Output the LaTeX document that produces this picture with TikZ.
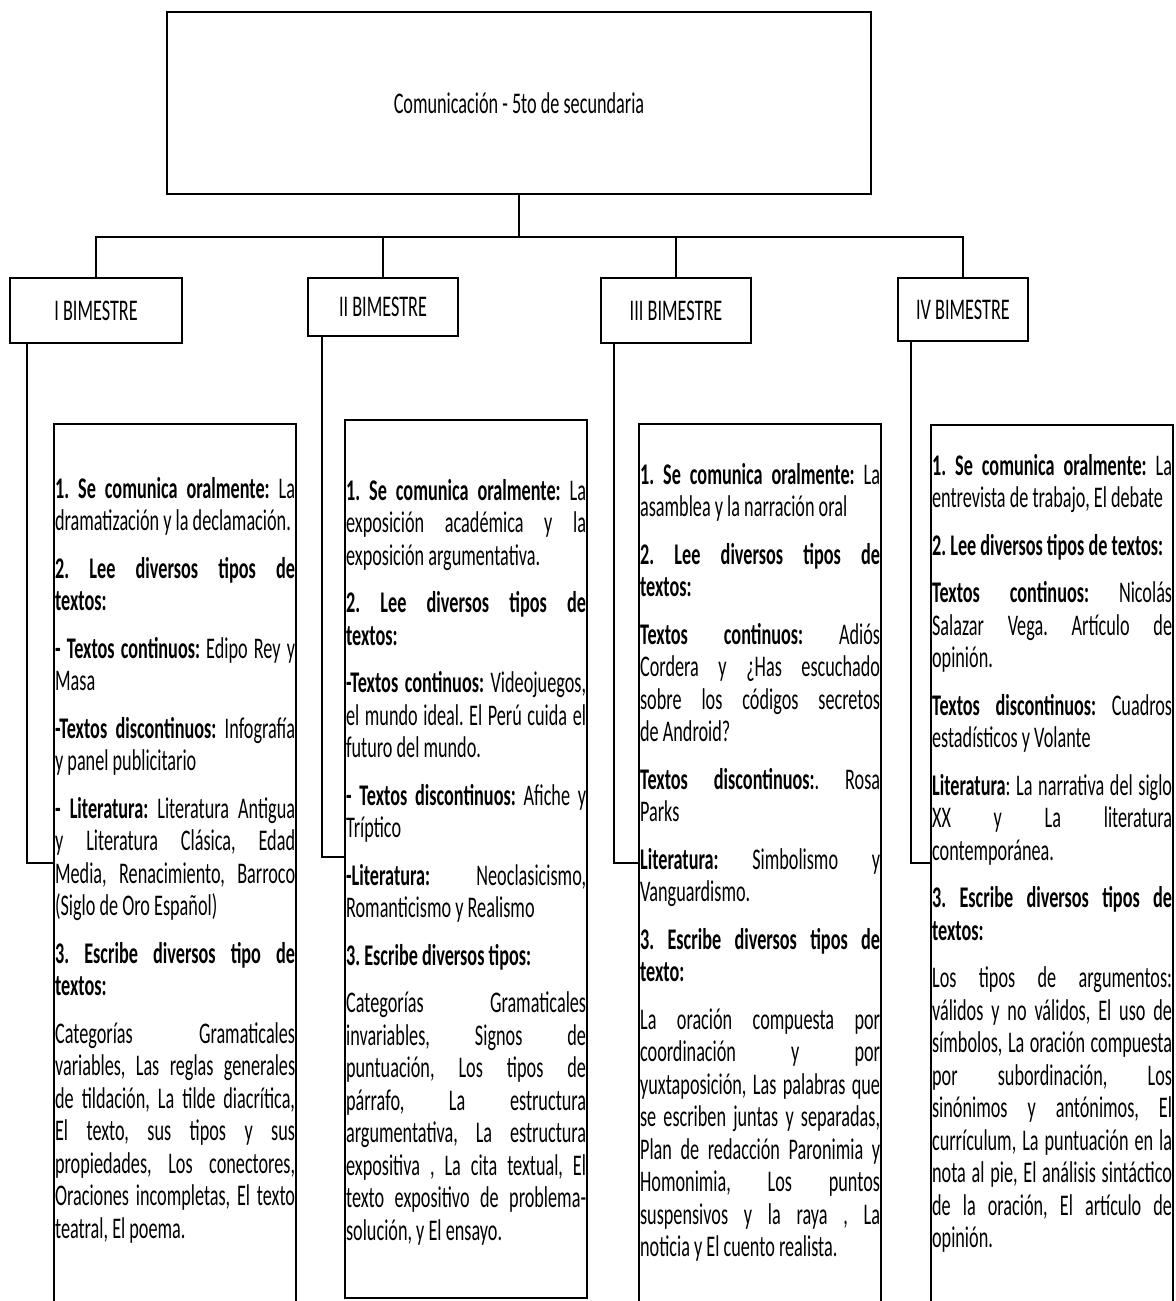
\documentclass[tikz,border=0pt]{standalone}
\usepackage{fontspec}
\setmainfont{Carlito}[FakeStretch=0.607]
\usetikzlibrary{positioning}
\frenchspacing

\begin{document}
\begin{tikzpicture}[
    x=0.5pt, y=-0.5pt,
    font=\fontsize{15}{16.25}\selectfont,
    topbox/.style={
        rectangle, draw, line width=1.2pt,
        minimum width=352pt, minimum height=91pt
    },
    bimbox/.style={
        rectangle, draw, line width=1.2pt,
        minimum height=32.5pt, anchor=north
    },
    listbox/.style={
        rectangle, draw, line width=1.1pt,
        minimum width=121pt, anchor=north west
    },
    listtext/.style={
        text width=120pt, inner xsep=0.5pt, inner ysep=0pt,
        align=justify,
        execute at begin node={\setlength{\parindent}{0pt}\setlength{\parskip}{7.5pt}\tolerance=10000\hyphenpenalty=10000}
    },
    link/.style={line width=0.9pt},
]

\useasboundingbox (0,0) rectangle (1176,1301);

\node[topbox] (top) at (519,103) {Comunicación - 5to de secundaria};

\node[bimbox, minimum width=86pt]                      (b1) at (96,277)  {I BIMESTRE};
\node[bimbox, minimum width=75pt, minimum height=29pt] (b2) at (383,277) {II BIMESTRE};
\node[bimbox, minimum width=75pt]                      (b3) at (676,277) {III BIMESTRE};
\node[bimbox, minimum width=65pt, minimum height=31.5pt] (b4) at (963,277) {IV BIMESTRE};

\node[listbox, minimum height=443.5pt] (c1) at (53,423)  {};
\node[listbox, minimum height=439pt]   (c2) at (344,419) {};
\node[listbox, minimum height=443.5pt] (c3) at (638,423) {};
\node[listbox, minimum height=443pt]   (c4) at (930,424) {};

\node[listtext, below=27pt of c1.north] (t1) {%
\textbf{1. Se comunica oralmente:} La\linebreak dramatización y la declamación.\par
\textbf{2. Lee diversos tipos de\linebreak textos:}\par
\textbf{- Textos continuos:} Edipo Rey y\linebreak Masa\par
\textbf{-Textos discontinuos:} Infografía\linebreak y panel publicitario\par
\textbf{- Literatura:} Literatura Antigua\linebreak y Literatura Clásica, Edad\linebreak Media, Renacimiento, Barroco\linebreak (Siglo de Oro Español)\par
\textbf{3. Escribe diversos tipo de\linebreak textos:}\par
Categorías Gramaticales\linebreak variables, Las reglas generales\linebreak de tildación, La tilde diacrítica,\linebreak El texto, sus tipos y sus\linebreak propiedades, Los conectores,\linebreak Oraciones incompletas, El texto\linebreak teatral, El poema.};

\node[listtext, below=30pt of c2.north] (t2) {%
\textbf{1. Se comunica oralmente:} La\linebreak exposición académica y la\linebreak exposición argumentativa.\par
\textbf{2. Lee diversos tipos de\linebreak textos:}\par
\textbf{-Textos continuos:} Videojuegos,\linebreak el mundo ideal. El Perú cuida el\linebreak futuro del mundo.\par
\textbf{- Textos discontinuos:} Afiche y\linebreak Tríptico\par
\textbf{-Literatura:} Neoclasicismo,\linebreak Romanticismo y Realismo\par
\textbf{3. Escribe diversos tipos:}\par
Categorías Gramaticales\linebreak invariables, Signos de\linebreak puntuación, Los tipos de\linebreak párrafo, La estructura\linebreak argumentativa, La estructura\linebreak expositiva , La cita textual, El\linebreak texto expositivo de problema-\linebreak solución, y El ensayo.};

\node[listtext, below=20pt of c3.north] (t3) {%
\textbf{1. Se comunica oralmente:} La\linebreak asamblea y la narración oral\par
\textbf{2. Lee diversos tipos de\linebreak textos:}\par
\textbf{Textos continuos:} Adiós\linebreak Cordera y ¿Has escuchado\linebreak sobre los códigos secretos\linebreak de Android?\par
\textbf{Textos discontinuos:}. Rosa\linebreak Parks\par
\textbf{Literatura:} Simbolismo y\linebreak Vanguardismo.\par
\textbf{3. Escribe diversos tipos de\linebreak texto:}\par
La oración compuesta por\linebreak coordinación y por\linebreak yuxtaposición, Las palabras que\linebreak se escriben juntas y separadas,\linebreak Plan de redacción Paronimia y\linebreak Homonimia, Los puntos\linebreak suspensivos y la raya , La\linebreak noticia y El cuento realista.};

\node[listtext, below=15pt of c4.north] (t4) {%
\textbf{1. Se comunica oralmente:} La\linebreak entrevista de trabajo, El debate\par
\textbf{2. Lee diversos tipos de textos:}\par
\textbf{Textos continuos:} Nicolás\linebreak Salazar Vega. Artículo de\linebreak opinión.\par
\textbf{Textos discontinuos:} Cuadros\linebreak estadísticos y Volante\par
\textbf{Literatura}: La narrativa del siglo\linebreak XX y La literatura\linebreak contemporánea.\par
\textbf{3. Escribe diversos tipos de\linebreak textos:}\par
Los tipos de argumentos:\linebreak válidos y no válidos, El uso de\linebreak símbolos, La oración compuesta\linebreak por subordinación, Los\linebreak sinónimos y antónimos, El\linebreak currículum, La puntuación en la\linebreak nota al pie, El análisis sintáctico\linebreak de la oración, El artículo de\linebreak opinión.};

\coordinate (bus) at (top.south |- 0,237);
\draw[link] (top.south) -- (bus);
\draw[link] (bus) -| (b1.north);
\draw[link] (bus) -| (b2.north);
\draw[link] (bus) -| (b3.north);
\draw[link] (bus) -| (b4.north);

\draw[link] ([xshift=9pt]b1.south west) |- ([yshift=-220pt]c1.north west);
\draw[link] ([xshift=7.5pt]b2.south west) |- ([yshift=-219pt]c2.north west);
\draw[link] ([xshift=7pt]b3.south west) |- ([yshift=-220pt]c3.north west);
\draw[link] ([xshift=7pt]b4.south west) |- ([yshift=-219.5pt]c4.north west);

\end{tikzpicture}
\end{document}
